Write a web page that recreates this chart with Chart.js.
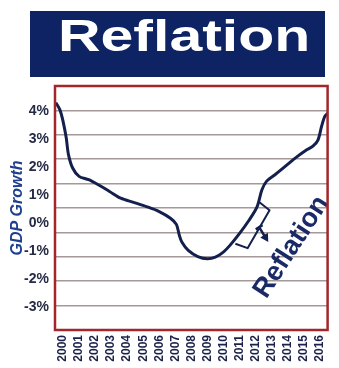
<!DOCTYPE html>
<html>
<head>
<meta charset="utf-8">
<title>Reflation</title>
<script src="https://cdn.jsdelivr.net/npm/chart.js@4.4.1/dist/chart.umd.min.js"></script>
<style>
  html, body { margin: 0; padding: 0; background: #fff; }
  #wrap { position: relative; width: 339px; height: 368px; }
  #banner {
    position: absolute; left: 30px; top: 11px; width: 295px; height: 66px;
    background: #0d2363; overflow: hidden;
  }
  #banner span {
    position: absolute; left: 28px; top: 0; line-height: 66px;
    font: bold 44px "Liberation Sans", Arial, sans-serif; color: #fff;
    transform: scaleX(1.34); transform-origin: left center; white-space: nowrap;
  }
  canvas { position: absolute; left: 0; top: 0; }
</style>
</head>
<body>
<div id="wrap">
  <canvas id="gdpChart" width="339" height="368"></canvas>
  <div id="banner"><span>Reflation</span></div>
</div>
<script>
// Year labels along the bottom
const years = [2000, 2001, 2002, 2003, 2004, 2005, 2006, 2007, 2008,
  2009, 2010, 2011, 2012, 2013, 2014, 2015, 2016];
// Percent labels on the left
const growthTicks = [4, 3, 2, 1, 0, -1, -2, -3];

// GDP growth curve (x = year, y = %)
const curveYears = [1999.55, 1999.8, 2000.0, 2000.2, 2000.34, 2000.6, 2001.0,
  2001.6, 2002.2, 2002.9, 2003.6, 2004.4, 2005.2, 2006.0, 2006.7, 2007.07,
  2007.25, 2007.41, 2007.81, 2008.41, 2009.0, 2009.5, 2010.0, 2010.41, 2011.0,
  2011.6, 2012.1, 2012.4, 2012.7, 2013.2, 2013.8, 2014.4, 2015.2, 2015.6,
  2015.9, 2016.12, 2016.32, 2016.5];
const curveGrowth = [4.31, 4.06, 3.65, 3.05, 2.45, 1.97, 1.67,
  1.55, 1.37, 1.13, 0.89, 0.74, 0.59, 0.41, 0.17, -0.05,
  -0.43, -0.68, -0.98, -1.2, -1.28, -1.22, -1.04, -0.8, -0.38,
  0.1, 0.58, 1.18, 1.5, 1.72, 2.0, 2.29, 2.62, 2.76,
  2.97, 3.45, 3.81, 3.93];

const navy = '#13204d';

// red frame, bracket, arrow and the slanted label
const decorations = {
  id: 'decorations',
  afterDraw(chart) {
    const { ctx, chartArea: a, scales: { x, y } } = chart;
    const px = (yr, g) => [x.getPixelForValue(yr), y.getPixelForValue(g)];

    ctx.save();
    // bracket next to the rising part of the curve
    const b = [px(2012.21, 0.76), px(2012.88, 0.46), px(2011.51, -0.9), px(2010.75, -0.74)];
    ctx.strokeStyle = navy;
    ctx.lineWidth = 2;
    ctx.lineJoin = 'round';
    ctx.beginPath();
    ctx.moveTo(b[0][0], b[0][1]);
    for (let i = 1; i < b.length; i++) ctx.lineTo(b[i][0], b[i][1]);
    ctx.stroke();

    // arrow
    const s = px(2012.23, -0.15), e = px(2012.8, -0.68);
    const ang = Math.atan2(e[1] - s[1], e[0] - s[0]);
    ctx.lineWidth = 2.5;
    ctx.beginPath();
    ctx.moveTo(s[0] - 4 * Math.sin(ang), s[1] + 4 * Math.cos(ang));
    ctx.lineTo(s[0] + 4 * Math.sin(ang), s[1] - 4 * Math.cos(ang));
    ctx.moveTo(s[0], s[1]);
    ctx.lineTo(e[0] - 5 * Math.cos(ang), e[1] - 5 * Math.sin(ang));
    ctx.stroke();
    ctx.fillStyle = navy;
    ctx.beginPath();
    ctx.moveTo(e[0], e[1]);
    ctx.lineTo(e[0] - 8 * Math.cos(ang) + 4.5 * Math.sin(ang), e[1] - 8 * Math.sin(ang) - 4.5 * Math.cos(ang));
    ctx.lineTo(e[0] - 8 * Math.cos(ang) - 4.5 * Math.sin(ang), e[1] - 8 * Math.sin(ang) + 4.5 * Math.cos(ang));
    ctx.closePath();
    ctx.fill();

    // slanted label
    const c = px(2014.25, -0.86);
    ctx.translate(c[0], c[1]);
    ctx.rotate(-57 * Math.PI / 180);
    ctx.font = 'bold 27px "Liberation Sans", Arial, sans-serif';
    ctx.fillStyle = '#1a2a66';
    ctx.textAlign = 'center';
    ctx.textBaseline = 'middle';
    ctx.fillText('Reflation', 0, 0);
    ctx.restore();

    // frame
    ctx.save();
    ctx.strokeStyle = '#a3262b';
    ctx.lineWidth = 2.5;
    ctx.strokeRect(a.left, a.top, a.right - a.left, a.bottom - a.top);
    ctx.restore();
  }
};

new Chart(document.getElementById('gdpChart'), {
  type: 'line',
  data: {
    datasets: [{
      data: curveYears.map((yr, i) => ({ x: yr, y: curveGrowth[i] })),
      borderColor: navy,
      borderWidth: 3,
      pointRadius: 0,
      tension: 0.3,
      fill: false
    }]
  },
  options: {
    responsive: false,
    animation: false,
    layout: { padding: { top: 86, left: 0, right: 0, bottom: 0 } },
    plugins: { legend: { display: false }, tooltip: { enabled: false } },
    scales: {
      x: {
        type: 'linear',
        min: 1999.5,
        max: 2016.5,
        grid: { display: false, drawTicks: false },
        border: { display: false },
        afterBuildTicks: axis => { axis.ticks = years.map(v => ({ value: v })); },
        afterFit: axis => { axis.height = 38; },
        ticks: {
          autoSkip: false,
          minRotation: 90,
          maxRotation: 90,
          padding: 5,
          color: '#1b2148',
          font: { family: '"Liberation Sans", Arial, sans-serif', size: 12, weight: 'bold' },
          callback: v => String(v)
        }
      },
      y: {
        position: 'left',
        min: -3.83,
        max: 4.906,
        grid: { display: false, drawTicks: false },
        border: { display: false },
        afterBuildTicks: axis => { axis.ticks = growthTicks.map(v => ({ value: v })); },
        afterFit: axis => { axis.width = 55; },
        title: {
          display: true,
          text: 'GDP Growth',
          color: '#1f3f8f',
          padding: { top: 8, bottom: 0 },
          font: { family: '"Liberation Sans", Arial, sans-serif', size: 16, weight: 'bold', style: 'italic' }
        },
        ticks: {
          padding: 6,
          color: '#262b45',
          font: { family: '"Liberation Sans", Arial, sans-serif', size: 14, weight: 'bold' },
          callback: v => v + '%'
        }
      },
      yGrid: {
        position: 'right',
        min: 0,
        max: 10,
        afterFit: axis => { axis.width = 1; },
        border: { display: false },
        grid: { color: '#a59898', lineWidth: 1.5, drawTicks: false },
        ticks: { display: false, stepSize: 1 }
      }
    }
  },
  plugins: [decorations]
});
</script>
</body>
</html>
